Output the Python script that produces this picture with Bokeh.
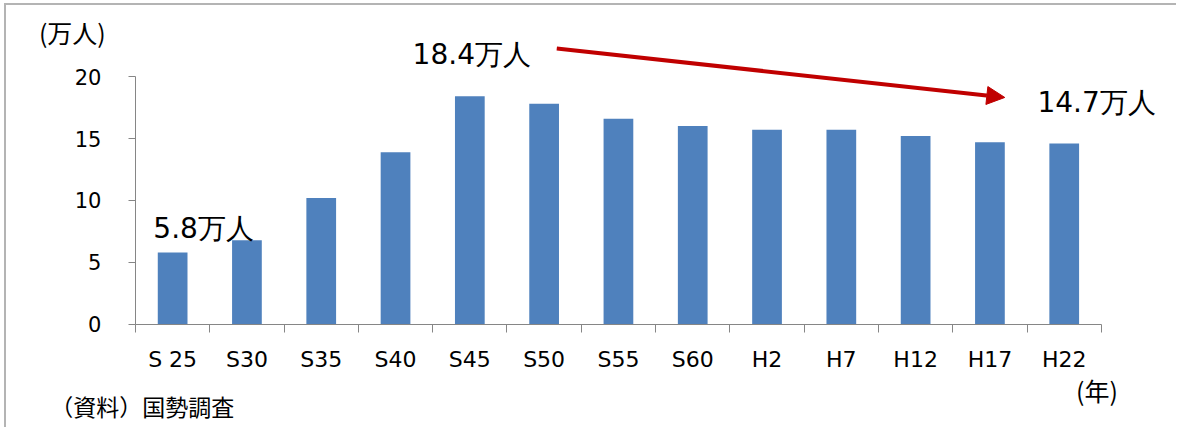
from bokeh.plotting import figure
from bokeh.models import Range1d, FixedTicker, Label, Arrow, NormalHead
from bokeh.embed import file_html
from bokeh.resources import INLINE

# ---- data ----
categories = ["S 25", "S30", "S35", "S40", "S45", "S50", "S55", "S60",
              "H2", "H7", "H12", "H17", "H22"]
population = [5.8, 6.8, 10.2, 13.9, 18.4, 17.8, 16.6, 16.0, 15.7, 15.7, 15.2, 14.7, 14.6]
y_ticks = [0, 5, 10, 15, 20]
unit_label = "(万人)"
year_label = "(年)"
source_label = "（資料）国勢調査"
label_suffix = "万人"

n = len(categories)
centers = [i + 0.5 for i in range(n)]
bounds_ticks = [i for i in range(n + 1)]

BAR = "#4F81BD"
AXIS = "#868686"
RED = "#C00000"

W, H = 1172, 424
p = figure(x_range=Range1d(-1.736, 14.038), y_range=Range1d(-8.468, 25.726),
           width=W, height=H, output_backend="svg", toolbar_location=None,
           min_border=0,
           styles={"margin-left": "4px", "margin-top": "3px",
                   "border-left": "2px solid #b4b4b4", "border-top": "2px solid #b4b4b4"})
p.outline_line_color = None
p.xgrid.visible = False
p.ygrid.visible = False
p.background_fill_color = "white"
p.border_fill_color = "white"

p.vbar(x=centers, top=population, width=0.4, fill_color=BAR, line_color=None)

# x axis: labels at centres, ticks at category boundaries
xa = p.xaxis[0]
xa.fixed_location = 0
xa.bounds = (0, n)
xa.ticker = FixedTicker(ticks=centers, minor_ticks=bounds_ticks)
xa.major_label_overrides = {c: lab for c, lab in zip(centers, categories)}
xa.major_tick_out = 0
xa.major_tick_in = 0
xa.minor_tick_out = 8
xa.minor_tick_in = 0
xa.minor_tick_line_color = AXIS
xa.axis_line_color = AXIS
xa.major_label_text_font = "DejaVu Sans"
xa.major_label_text_font_size = "22px"
xa.major_label_text_color = "#000000"
xa.major_label_standoff = 15

ya = p.yaxis[0]
ya.fixed_location = 0
ya.ticker = FixedTicker(ticks=y_ticks)
ya.bounds = (0, 20)
ya.major_tick_out = 7
ya.major_tick_in = 0
ya.minor_tick_out = 0
ya.minor_tick_in = 0
ya.major_tick_line_color = AXIS
ya.axis_line_color = AXIS
ya.major_label_text_font = "DejaVu Sans"
ya.major_label_text_font_size = "21px"
ya.major_label_text_color = "#000000"
ya.major_label_standoff = 27

def add_label(x, y, text, size, font="DejaVu Sans"):
    p.add_layout(Label(x=x, y=y, text=text, text_font=font, text_font_size=size,
                       text_color="#000000", text_baseline="middle", text_align="left"))

# value annotations
add_label(0.24, 7.74, f"{population[0]}{label_suffix}", "28px")
add_label(3.73, 21.77, f"{population[4]}{label_suffix}", "28px")
add_label(12.14, 17.9, f"{population[11]}{label_suffix}", "28px")

# unit / source texts
add_label(-1.30, 23.6, unit_label, "25px", "Noto Sans CJK JP")
add_label(-1.146, -6.61, source_label, "23px", "Noto Sans CJK JP")
add_label(12.66, -5.32, year_label, "25px", "Noto Sans CJK JP")

# trend arrow
p.add_layout(Arrow(x_start=5.67, y_start=22.26, x_end=11.70, y_end=18.31,
                   line_color=RED, line_width=4,
                   end=NormalHead(size=18, fill_color=RED, line_color=RED)))

open("out.html", "w").write(file_html(p, INLINE))
